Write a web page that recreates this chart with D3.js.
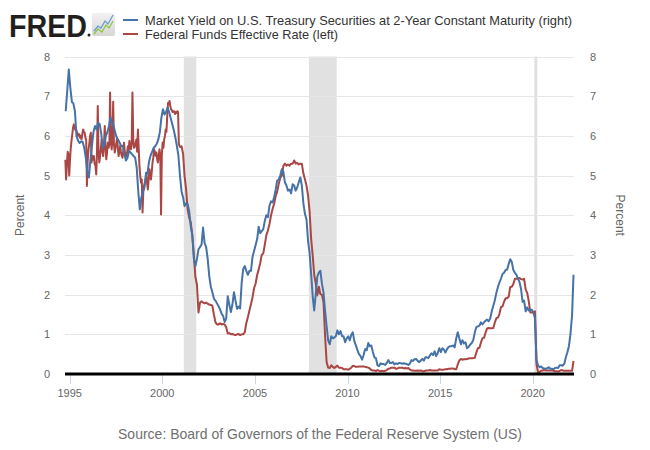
<!DOCTYPE html>
<html><head><meta charset="utf-8">
<script src="https://cdn.jsdelivr.net/npm/d3@7"></script>
<style>
html,body{margin:0;padding:0;background:#fff;}
svg{display:block;font-family:"Liberation Sans",Arial,sans-serif;}
</style></head>
<body><svg id="chart" width="650" height="450"></svg>
<script>
// ---------- DATA ----------
const seriesNames = [
  "Market Yield on U.S. Treasury Securities at 2-Year Constant Maturity (right)",
  "Federal Funds Effective Rate (left)"
];
const sourceText = "Source: Board of Governors of the Federal Reserve System (US)";
const xTickYears = [1995, 2000, 2005, 2010, 2015, 2020];
const yTicks = [0, 1, 2, 3, 4, 5, 6, 7, 8];
const recessionStart = ["2001-03-01", "2007-12-01", "2020-02-01"];
const recessionEnd   = ["2001-11-01", "2009-06-01", "2020-04-01"];

// 2-year Treasury yield, monthly from Oct 1994 to Mar 2022 (percent)
const treasury2yStart = [1994, 9];
const treasury2y = [
  6.62, 7.15, 7.67,                                               // 1994 Oct-Dec
  7.2, 6.85, 6.82, 6.62, 6.0, 5.88, 5.82, 5.86, 5.85, 5.7, 5.45, 5.1,   // 1995
  4.95, 5.4, 5.75, 6.1, 6.25, 6.16, 6.33, 6.3, 6.05, 5.7, 5.8, 6.0,     // 1996
  6.1, 6.25, 6.46, 6.35, 6.25, 6.1, 5.96, 5.9, 5.82, 5.74, 5.75, 5.55,  // 1997
  5.38, 5.45, 5.62, 5.58, 5.54, 5.49, 5.45, 5.2, 4.6, 4.15, 4.45, 4.58, // 1998
  4.7, 5.07, 5.05, 5.35, 5.5, 5.6, 5.7, 5.74, 5.8, 5.91, 6.1, 6.46,     // 1999
  6.67, 6.54, 6.6, 6.71, 6.6, 6.45, 6.3, 6.15, 5.96, 5.75, 5.5, 5.0,    // 2000
  4.6, 4.45, 4.23, 4.3, 4.28, 4.1, 3.73, 3.5, 2.9, 2.72, 2.9, 3.14,     // 2001
  3.2, 3.27, 3.69, 3.3, 3.2, 2.9, 2.47, 2.2, 2.06, 1.9, 1.85, 1.78,     // 2002
  1.71, 1.62, 1.52, 1.46, 1.31, 1.4, 1.96, 1.75, 1.56, 1.75, 2.06, 1.85,// 2003
  1.64, 1.7, 1.65, 2.3, 2.64, 2.72, 2.6, 2.5, 2.6, 2.6, 2.95, 3.1,      // 2004
  3.25, 3.4, 3.71, 3.55, 3.6, 3.65, 3.86, 4.0, 3.95, 4.24, 4.35, 4.32,  // 2005
  4.45, 4.65, 4.87, 4.9, 5.0, 5.16, 5.1, 4.83, 4.75, 4.62, 4.65, 4.55,  // 2006
  4.78, 4.75, 4.62, 4.7, 4.83, 4.95, 4.75, 4.3, 4.03, 3.9, 3.35, 3.05,  // 2007
  2.52, 1.95, 1.6, 2.02, 2.45, 2.56, 2.6, 2.27, 2.05, 1.6, 1.2, 0.85,   // 2008
  0.75, 0.95, 0.9, 0.92, 0.95, 1.1, 1.0, 1.08, 0.95, 0.95, 0.8, 0.9,    // 2009
  0.95, 0.85, 0.98, 1.05, 0.83, 0.72, 0.6, 0.5, 0.45, 0.36, 0.48, 0.63, // 2010
  0.6, 0.78, 0.7, 0.72, 0.56, 0.42, 0.4, 0.22, 0.2, 0.27, 0.25, 0.25,   // 2011
  0.23, 0.28, 0.35, 0.28, 0.28, 0.3, 0.24, 0.27, 0.25, 0.28, 0.27, 0.26,// 2012
  0.27, 0.26, 0.25, 0.23, 0.26, 0.35, 0.33, 0.37, 0.38, 0.33, 0.3, 0.34,// 2013
  0.38, 0.34, 0.42, 0.42, 0.4, 0.47, 0.52, 0.48, 0.57, 0.45, 0.53, 0.65,// 2014
  0.55, 0.65, 0.62, 0.54, 0.62, 0.68, 0.7, 0.7, 0.72, 0.67, 0.9, 1.05,  // 2015
  0.9, 0.75, 0.85, 0.77, 0.8, 0.65, 0.68, 0.74, 0.78, 0.85, 1.05, 1.18, // 2016
  1.2, 1.22, 1.3, 1.25, 1.3, 1.34, 1.37, 1.33, 1.4, 1.58, 1.72, 1.86,   // 2017
  2.05, 2.2, 2.3, 2.4, 2.52, 2.55, 2.62, 2.63, 2.78, 2.89, 2.82, 2.62,  // 2018
  2.55, 2.5, 2.4, 2.32, 2.15, 1.82, 1.85, 1.58, 1.68, 1.6, 1.62, 1.62,  // 2019
  1.55, 1.4, 0.35, 0.22, 0.17, 0.19, 0.15, 0.14, 0.13, 0.15, 0.17, 0.13,// 2020
  0.13, 0.12, 0.15, 0.16, 0.15, 0.22, 0.22, 0.21, 0.26, 0.42, 0.55, 0.7,// 2021
  1.02, 1.48, 2.5                                                  // 2022 Jan-Mar
];

// Fed funds effective rate, twice a month from Oct 1994 to Dec 2000 (percent)
const fedFundsHalfMonthStart = [1994, 9];
const fedFundsHalfMonth = [
  5.4, 4.9, 5.3, 5.6, 5.55, 5.0,                                   // 1994 Oct-Dec
  5.4, 5.7, 5.9, 6.05, 6.2, 6.29, 6.2, 6.15, 6.16, 6.1, 6.0, 6.05,
  6.04, 5.95, 6.0, 5.91, 6.05, 6.16, 6.1, 6.08, 5.95, 5.9, 4.74, 5.4,   // 1995
  5.66, 5.8, 6.0, 6.08, 5.33, 5.5, 5.4, 5.49, 5.3, 5.25, 5.03, 5.6,
  6.75, 5.6, 5.33, 5.5, 5.7, 5.91, 5.6, 5.49, 5.8, 6.25, 5.7, 5.41,     // 1996
  5.6, 5.83, 5.7, 5.8, 7.09, 5.9, 5.66, 5.9, 6.86, 5.8, 5.58, 5.7,
  5.8, 5.95, 5.7, 5.49, 5.6, 5.75, 5.6, 5.5, 5.45, 5.6, 5.83, 5.6,      // 1997
  5.5, 5.49, 5.6, 5.74, 5.6, 5.87, 5.75, 5.66, 5.8, 7.09, 5.9, 5.7,
  5.74, 5.8, 5.91, 5.6, 6.16, 5.7, 5.24, 5.0, 4.82, 4.9, 4.07, 4.6,     // 1998
  4.75, 4.82, 4.9, 5.07, 4.8, 4.65, 4.9, 5.16, 5.0, 4.9, 5.1, 5.33,
  5.45, 5.66, 5.6, 5.5, 5.58, 5.4, 5.33, 5.5, 5.66, 5.5, 4.02, 5.5,     // 1999
  5.83, 5.7, 5.91, 6.0, 6.16, 6.1, 6.5, 6.83, 6.8, 6.88, 6.75, 6.67,
  6.65, 6.6, 6.62, 6.62, 6.55, 6.6, 6.58, 6.62, 6.6, 5.8, 5.74, 5.72    // 2000
];

// Fed funds effective rate, monthly from Jan 2001 to Mar 2022 (percent)
const fedFundsMonthStart = [2001, 0];
const fedFundsMonthly = [
  5.74, 5.55, 5.0, 4.65, 4.15, 3.94, 3.82, 3.5, 3.0, 2.45, 2.25, 1.55,  // 2001
  1.8, 1.83, 1.8, 1.78, 1.8, 1.77, 1.75, 1.74, 1.72, 1.5, 1.3, 1.25,    // 2002
  1.25, 1.28, 1.25, 1.26, 1.25, 1.18, 1.02, 1.03, 1.0, 1.01, 0.99, 0.98,// 2003
  1.0, 1.01, 0.98, 1.0, 1.0, 1.05, 1.28, 1.43, 1.6, 1.76, 1.93, 2.16,   // 2004
  2.28, 2.5, 2.63, 2.79, 3.0, 3.04, 3.26, 3.5, 3.62, 3.78, 4.0, 4.16,   // 2005
  4.29, 4.49, 4.59, 4.79, 4.94, 4.99, 5.24, 5.3, 5.25, 5.28, 5.25, 5.3, // 2006
  5.3, 5.38, 5.3, 5.32, 5.28, 5.3, 5.3, 5.05, 4.9, 4.75, 4.5, 4.1,      // 2007
  3.4, 2.98, 2.5, 2.28, 1.98, 2.2, 2.01, 2.0, 1.8, 0.97, 0.3, 0.16,     // 2008
  0.15, 0.22, 0.18, 0.15, 0.18, 0.21, 0.16, 0.16, 0.15, 0.12, 0.12, 0.12,// 2009
  0.11, 0.13, 0.16, 0.2, 0.2, 0.18, 0.18, 0.19, 0.19, 0.19, 0.19, 0.18, // 2010
  0.17, 0.16, 0.14, 0.1, 0.09, 0.09, 0.07, 0.1, 0.08, 0.07, 0.08, 0.07, // 2011
  0.08, 0.1, 0.13, 0.14, 0.16, 0.16, 0.16, 0.13, 0.14, 0.16, 0.16, 0.16,// 2012
  0.14, 0.15, 0.14, 0.15, 0.11, 0.09, 0.09, 0.08, 0.08, 0.09, 0.08, 0.09,// 2013
  0.07, 0.07, 0.08, 0.09, 0.09, 0.1, 0.09, 0.09, 0.09, 0.09, 0.09, 0.12,// 2014
  0.11, 0.11, 0.11, 0.12, 0.12, 0.13, 0.13, 0.14, 0.14, 0.12, 0.12, 0.24,// 2015
  0.34, 0.38, 0.36, 0.37, 0.37, 0.38, 0.39, 0.4, 0.4, 0.4, 0.41, 0.54,  // 2016
  0.65, 0.66, 0.79, 0.9, 0.91, 1.04, 1.15, 1.16, 1.15, 1.15, 1.16, 1.3, // 2017
  1.41, 1.42, 1.51, 1.69, 1.7, 1.82, 1.91, 1.91, 1.95, 2.19, 2.2, 2.27, // 2018
  2.4, 2.4, 2.41, 2.42, 2.39, 2.38, 2.4, 2.13, 2.04, 1.83, 1.55, 1.55,  // 2019
  1.55, 1.58, 0.25, 0.05, 0.05, 0.08, 0.09, 0.1, 0.09, 0.09, 0.09, 0.09,// 2020
  0.09, 0.08, 0.07, 0.07, 0.06, 0.08, 0.1, 0.09, 0.08, 0.08, 0.08, 0.08,// 2021
  0.08, 0.08, 0.33                                                 // 2022 Jan-Mar
];

// ---------- BUILD ----------
const blueData = treasury2y.map((v, i) => ({date: new Date(treasury2yStart[0], treasury2yStart[1] + i, 15), v}));
const redData = fedFundsHalfMonth.map((v, i) => ({
    date: new Date(fedFundsHalfMonthStart[0], fedFundsHalfMonthStart[1] + Math.floor(i / 2), i % 2 ? 23 : 8), v}))
  .concat(fedFundsMonthly.map((v, i) => ({date: new Date(fedFundsMonthStart[0], fedFundsMonthStart[1] + i, 15), v})));

const svg = d3.select("#chart");
svg.append("rect").attr("width", 650).attr("height", 450).attr("fill", "#fff");

const L = 65, R = 574, T = 56.5, B = 374;
const x = d3.scaleTime().domain([new Date(1994, 9, 1), new Date(2022, 2, 25)]).range([L, R]);
const yL = d3.scaleLinear().domain([0, 8]).range([B, T]);
const yR = d3.scaleLinear().domain([0, 8]).range([B, T]);

// recession shading
svg.append("g").selectAll("rect").data(recessionStart).join("rect")
  .attr("x", (d) => x(new Date(d)))
  .attr("width", (d, i) => x(new Date(recessionEnd[i])) - x(new Date(d)))
  .attr("y", T).attr("height", B - T)
  .attr("fill", "#e1e1e1");

// gridlines
svg.append("g").selectAll("line").data(yTicks.filter(d => d > 0)).join("line")
  .attr("x1", L).attr("x2", R)
  .attr("y1", d => Math.round(yL(d)) + 0.5).attr("y2", d => Math.round(yL(d)) + 0.5)
  .attr("stroke", "#e6e6e6").attr("stroke-width", 1);

// left axis labels
svg.append("g").selectAll("text").data(yTicks).join("text")
  .attr("x", 50).attr("y", d => yL(d) + 4)
  .attr("text-anchor", "end").attr("font-size", 11).attr("fill", "#666")
  .text(d => d);
// right axis labels
svg.append("g").selectAll("text").data(yTicks).join("text")
  .attr("x", 590).attr("y", d => yR(d) + 4)
  .attr("text-anchor", "start").attr("font-size", 11).attr("fill", "#666")
  .text(d => d);

// axis titles
svg.append("text").attr("transform", `translate(24,${(T + B) / 2}) rotate(-90)`)
  .attr("text-anchor", "middle").attr("font-size", 12).attr("fill", "#666").text("Percent");
svg.append("text").attr("transform", `translate(616,${(T + B) / 2}) rotate(90)`)
  .attr("text-anchor", "middle").attr("font-size", 12).attr("fill", "#666").text("Percent");

// x axis ticks and labels
const xt = svg.append("g");
xt.selectAll("line").data(xTickYears).join("line")
  .attr("x1", d => Math.round(x(new Date(d, 0, 1))) + 0.5)
  .attr("x2", d => Math.round(x(new Date(d, 0, 1))) + 0.5)
  .attr("y1", B).attr("y2", B + 10)
  .attr("stroke", "#ccd6eb").attr("stroke-width", 1);
xt.selectAll("text").data(xTickYears).join("text")
  .attr("x", d => x(new Date(d, 0, 1))).attr("y", 397)
  .attr("text-anchor", "middle").attr("font-size", 11).attr("fill", "#666")
  .text(d => d);

// lines
const lineL = d3.line().x(d => x(d.date)).y(d => yL(d.v));
const lineR = d3.line().x(d => x(d.date)).y(d => yR(d.v));
svg.append("path").datum(redData).attr("d", lineL)
  .attr("fill", "none").attr("stroke", "#aa4643").attr("stroke-width", 2)
  .attr("stroke-linejoin", "round");
svg.append("path").datum(blueData).attr("d", lineR)
  .attr("fill", "none").attr("stroke", "#4572a7").attr("stroke-width", 2)
  .attr("stroke-linejoin", "round");

// baseline
svg.append("line").attr("x1", L).attr("x2", R).attr("y1", B).attr("y2", B)
  .attr("stroke", "#000").attr("stroke-width", 3);

// header: FRED logo
svg.append("text").attr("x", 9).attr("y", 37).attr("font-size", 32).attr("font-weight", "bold")
  .attr("fill", "#231f20").attr("textLength", 78).attr("lengthAdjust", "spacingAndGlyphs").text("FRED");
svg.append("circle").attr("cx", 89).attr("cy", 35).attr("r", 1.5).attr("fill", "#231f20");
const defs = svg.append("defs");
const grad = defs.append("linearGradient").attr("id", "ig").attr("x1", 0).attr("y1", 0).attr("x2", 0).attr("y2", 1);
grad.append("stop").attr("offset", "0%").attr("stop-color", "#f2f2f2");
grad.append("stop").attr("offset", "100%").attr("stop-color", "#d6d6d6");
svg.append("rect").attr("x", 92).attr("y", 13).attr("width", 23).attr("height", 23).attr("rx", 2).attr("fill", "url(#ig)");
svg.append("path").attr("d", "M94,31 L98,26 L101,28 L105,21 L108,24 L113,15")
  .attr("fill", "none").attr("stroke", "#6c9bd2").attr("stroke-width", 1.3);
svg.append("path").attr("d", "M94,34 L98,29 L102,32 L106,25 L109,28 L113,21")
  .attr("fill", "none").attr("stroke", "#8dc63f").attr("stroke-width", 1.3);

// legend
const legColors = ["#4572a7", "#aa4643"];
const legWidths = [427, 193];
const leg = svg.append("g");
seriesNames.forEach((name, i) => {
  const yy = 20 + i * 14;
  leg.append("line").attr("x1", 123).attr("x2", 138).attr("y1", yy).attr("y2", yy)
    .attr("stroke", legColors[i]).attr("stroke-width", 2);
  leg.append("text").attr("x", 145).attr("y", yy + 4.5).attr("font-size", 13).attr("fill", "#333")
    .attr("textLength", legWidths[i]).attr("lengthAdjust", "spacingAndGlyphs").text(name);
});

// source
svg.append("text").attr("x", 320).attr("y", 439).attr("text-anchor", "middle")
  .attr("font-size", 15).attr("fill", "#707070")
  .attr("textLength", 404).attr("lengthAdjust", "spacingAndGlyphs").text(sourceText);
</script></body></html>
